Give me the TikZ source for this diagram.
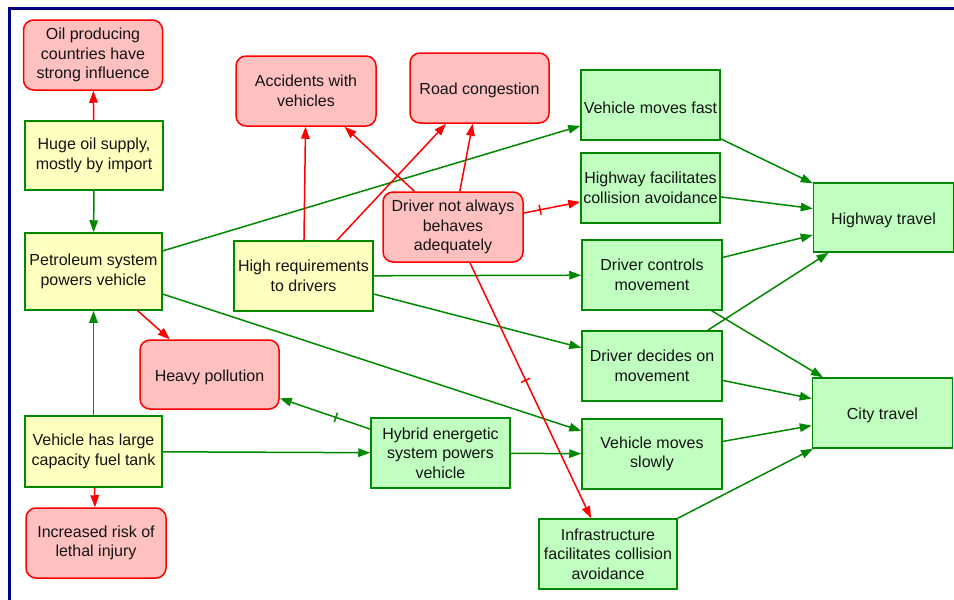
\documentclass[tikz,border=0pt]{standalone}
\usepackage{fontspec}
\setmainfont{Liberation Sans}
\usetikzlibrary{arrows.meta}
\definecolor{frameblue}{RGB}{0,0,128}
\definecolor{posgreen}{RGB}{0,136,0}
\definecolor{posfill}{RGB}{192,255,192}
\definecolor{negred}{RGB}{255,0,0}
\definecolor{negfill}{RGB}{255,192,192}
\definecolor{basefill}{RGB}{255,255,192}
\definecolor{txt}{RGB}{20,20,20}
\tikzset{
  box/.style={rectangle, line width=1.5pt, align=center, inner sep=2pt,
    minimum width=139pt, minimum height=70pt, text=txt,
    font=\fontsize{16}{19.5}\selectfont,
    execute at begin node={\rule{0pt}{16.5pt}}},
  riskbox/.style={box, draw=negred, fill=negfill, rounded corners=10pt},
  goalbox/.style={box, draw=posgreen, fill=posfill},
  basebox/.style={box, draw=posgreen, fill=basefill},
  poslink/.style={draw=posgreen, line width=1.5pt, -{Triangle[length=12pt,width=8.5pt]}},
  neglink/.style={draw=negred, line width=1.5pt, -{Triangle[length=12pt,width=8.5pt]}},
  cutmark/.style={sloped, line width=1.5pt, minimum width=0pt, minimum height=10pt, inner sep=0pt, outer sep=0pt},
  cutpos/.style={cutmark, draw=posgreen},
  cutneg/.style={cutmark, draw=negred}
}
\begin{document}
\begin{tikzpicture}[x=1pt, y=-1pt]
\useasboundingbox (0,0) rectangle (954,600);
\fill[white] (0,0) rectangle (954,600);
\draw[frameblue, line width=2.7pt] (954,8.7) -- (9.3,8.7) -- (9.3,600);

% nodes
\node[riskbox] (oil) at (93,55) {Oil producing\\countries have\\strong influence};
\node[basebox, minimum width=138pt, minimum height=69pt] (huge) at (94,155.5) {Huge oil supply,\\mostly by import};
\node[basebox, minimum width=137pt, minimum height=77pt] (petro) at (93.5,271.5) {Petroleum system\\powers vehicle};
\node[basebox, minimum width=137pt, minimum height=71pt] (tank) at (93.5,451.5) {Vehicle has large\\capacity fuel tank};
\node[riskbox, minimum width=140pt] (lethal) at (96,543) {Increased risk of\\lethal injury};
\node[riskbox, minimum height=69pt] (poll) at (209.5,374.5) {Heavy pollution};
\node[riskbox, minimum width=140pt] (acc) at (306,91) {Accidents with\\vehicles};
\node[riskbox] (cong) at (479.5,88) {Road congestion};
\node[basebox] (highreq) at (303.5,276) {High requirements\\to drivers};
\node[riskbox, minimum width=140pt] (driver) at (453,227) {Driver not always\\behaves\\adequately};
\node[goalbox] (fast) at (650.5,105) {Vehicle moves fast};
\node[goalbox] (hwfac) at (650.5,188) {Highway facilitates\\collision avoidance};
\node[goalbox, minimum width=140pt] (controls) at (652,275) {Driver controls\\movement};
\node[goalbox, minimum width=140pt] (decides) at (652,366) {Driver decides on\\movement};
\node[goalbox, minimum width=140pt] (slowly) at (652,454) {Vehicle moves\\slowly};
\node[goalbox] (hybrid) at (440.5,453) {Hybrid energetic\\system powers\\vehicle};
\node[goalbox, minimum width=138pt] (infra) at (608,554) {Infrastructure\\facilitates collision\\avoidance};
\node[goalbox, minimum width=140pt, minimum height=69pt] (hwtravel) at (883.5,217.5) {Highway travel};
\node[goalbox, minimum width=140pt] (city) at (882.5,413) {City travel};

% connectors
\draw[neglink] (huge) -- (oil);
\draw[poslink] (huge) -- (petro);
\draw[poslink] (tank) -- (petro);
\draw[neglink] (tank) -- (lethal);
\draw[poslink] (tank) -- (hybrid);
\draw[poslink] (hybrid) -- node[cutpos, pos=0.38] {} (poll);
\draw[neglink] (petro) -- (poll);
\draw[poslink] (petro) -- (fast);
\draw[poslink] (petro) -- (slowly);
\draw[neglink] (highreq) -- (acc);
\draw[neglink] (highreq) -- (cong);
\draw[poslink] (highreq) -- (controls);
\draw[poslink] (highreq) -- (decides);
\draw[neglink] (driver) -- (acc);
\draw[neglink] (driver) -- (cong);
\draw[neglink] (driver) -- node[cutneg, pos=0.29] {} (hwfac);
\draw[neglink] (driver) -- node[cutneg, pos=0.46] {} (infra);
\draw[poslink] (hybrid) -- (slowly);
\draw[poslink] (fast) -- (hwtravel);
\draw[poslink] (hwfac) -- (hwtravel);
\draw[poslink] (controls) -- (hwtravel);
\draw[poslink] (controls) -- (city);
\draw[poslink] (decides) -- (hwtravel);
\draw[poslink] (decides) -- (city);
\draw[poslink] (slowly) -- (city);
\draw[poslink] (infra) -- (city);
\end{tikzpicture}
\end{document}
